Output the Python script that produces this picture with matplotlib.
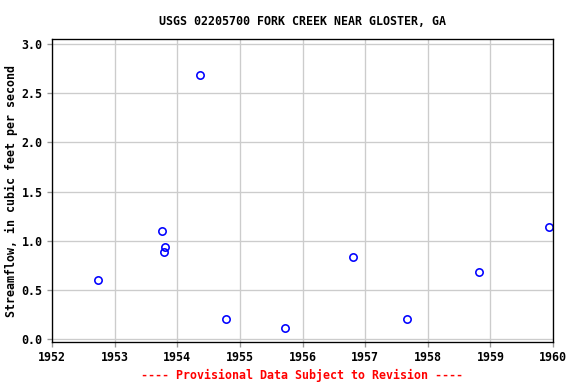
import matplotlib
matplotlib.use('Agg')
import matplotlib.pyplot as plt

# Данные (год в долях, расход)
years = [1952.73, 1953.76, 1953.78, 1953.81, 1954.36, 1954.78, 1955.72,
         1956.81, 1957.67, 1958.82, 1959.93]
flow = [0.60, 1.10, 0.89, 0.94, 2.69, 0.21, 0.11, 0.84, 0.21, 0.68, 1.14]

x_ticks = list(range(1952, 1961))
y_ticks = [0.0, 0.5, 1.0, 1.5, 2.0, 2.5, 3.0]

font = {'family': 'DejaVu Sans Mono', 'weight': 'bold', 'size': 8.7}

fig = plt.figure(figsize=(6, 4), dpi=96)
ax = fig.add_axes([0.0903, 0.109, 0.870, 0.789])

ax.plot(years, flow, linestyle='none', marker='o', markersize=5.5,
        markerfacecolor='none', markeredgecolor='blue', markeredgewidth=1.2)

ax.set_xlim(1952, 1960)
ax.set_ylim(-0.03, 3.05)
ax.set_xticks(x_ticks)
ax.set_yticks(y_ticks)
ax.set_xticklabels([str(t) for t in x_ticks], fontdict=font)
ax.set_yticklabels([f'{t:.1f}' for t in y_ticks], fontdict=font)
ax.grid(True, color='#cccccc', linewidth=1)
ax.set_axisbelow(True)
ax.tick_params(length=4, color='#999999', width=1, pad=3)
for s in ax.spines.values():
    s.set_linewidth(1)

ax.set_title('USGS 02205700 FORK CREEK NEAR GLOSTER, GA', fontdict=font, pad=11)
ax.set_ylabel('Streamflow, in cubic feet per second', fontdict=font, labelpad=3)
fig.text(0.524, 0.005, '---- Provisional Data Subject to Revision ----',
         color='red', ha='center', va='bottom', **font)

fig.savefig('out.png', dpi=96)
